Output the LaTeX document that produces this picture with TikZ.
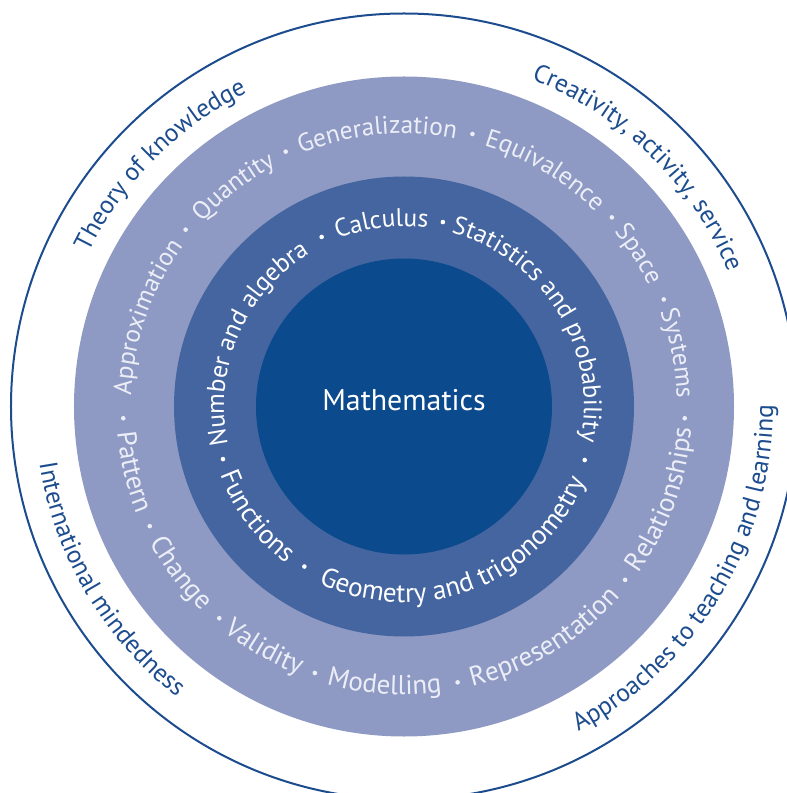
\documentclass[tikz,border=0pt]{standalone}
\usepackage{fontspec}
\setmainfont{PT Sans}
\usetikzlibrary{decorations.text}
\definecolor{outerline}{RGB}{28,76,142}
\definecolor{ringlight}{RGB}{142,154,196}
\definecolor{ringmid}{RGB}{68,101,160}
\definecolor{coreblue}{RGB}{11,74,140}
\definecolor{paletext}{RGB}{236,238,247}
\newcommand\topfont{\fontsize{25.5}{30}\selectfont}
\newcommand\lowfont{\fontsize{27.2}{32}\selectfont}
\tikzset{
	ringdot/.style = {fill = #1},
	arcword/.style = {decorate, decoration = {text along path, text align = center, text color = #1}}
}

\begin{document}
\begin{tikzpicture}[x = 1bp, y = 1bp]
	\useasboundingbox (-404,-386.5) rectangle (383,406.5);
	\coordinate (centre) at (0,0);
	% rings
	\draw[outerline, line width = 2bp] (centre) circle[radius = 393];
	\fill[ringlight] (centre) circle[radius = 330];
	\fill[ringmid] (centre) circle[radius = 230];
	\fill[coreblue] (centre) circle[radius = 148];
	\node (maths) at (0,-4.5) [anchor = base, text = white, font = \fontsize{30}{36}\selectfont] {Mathematics};
	% middle ring, read clockwise on top and anticlockwise below
	\topfont
	\foreach \a/\w in {156.9/Number and algebra, 97/Calculus, 31.9/Statistics and probability}
		\path[arcword = white, decoration = {text/.expand once = \w}]
		(\a+80:180) arc[start angle = \a+80, end angle = \a-80, radius = 180];
	\lowfont
	\foreach \a/\w in {216.8/Functions, 290.9/Geometry and trigonometry}
		\path[arcword = white, decoration = {text/.expand once = \w}]
		(\a-80:196) arc[start angle = \a-80, end angle = \a+80, radius = 196];
	\foreach \a in {115.9, 78.1, -16.5, 196.2, 238.1}
		\fill[ringdot = white] (\a:188.5) circle[radius = 2.3];
	% light ring
	\topfont
	\foreach \a/\w in {160.8/Approximation, 127.8/Quantity, 95.6/Generalization, 59.2/Equivalence, 33/Space, 11/Systems}
		\path[arcword = paletext, decoration = {text/.expand once = \w}]
		(\a+80:273) arc[start angle = \a+80, end angle = \a-80, radius = 273];
	\lowfont
	\foreach \a/\w in {193.6/Pattern, 216.8/Change, 239.9/Validity, 266/Modelling, 301.2/Representation, 340.2/Relationships}
		\path[arcword = paletext, decoration = {text/.expand once = \w}]
		(\a-80:288) arc[start angle = \a-80, end angle = \a+80, radius = 288];
	\foreach \a in {141, 114.9, 75.9, 42.3, 22.4, -2.4, 182.4, 205.2, 228.9, 251.5, 281, 321.9}
		\fill[ringdot = paletext] (\a:281) circle[radius = 2.3];
	% outer labels
	\topfont
	\foreach \a/\w in {135.2/Theory of knowledge, 45.6/{Creativity, activity, service}}
		\path[arcword = outerline, decoration = {text/.expand once = \w}]
		(\a+80:351) arc[start angle = \a+80, end angle = \a-80, radius = 351];
	\foreach \a/\w in {210.5/International mindedness, 329.2/Approaches to teaching and learning}
		\path[arcword = outerline, decoration = {text/.expand once = \w}]
		(\a-80:369) arc[start angle = \a-80, end angle = \a+80, radius = 369];
\end{tikzpicture}
\end{document}
